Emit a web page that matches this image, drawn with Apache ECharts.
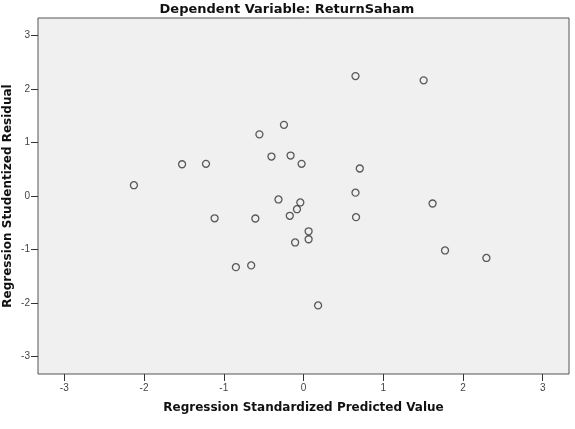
<!DOCTYPE html>
<html>
<head>
<meta charset="utf-8">
<script src="https://cdn.jsdelivr.net/npm/echarts@6/dist/echarts.min.js"></script>
<style>html,body{margin:0;padding:0;background:#fff;}#c{width:575px;height:429px;}</style>
</head>
<body>
<div id="c"></div>
<script>
var titleText = 'Dependent Variable: ReturnSaham';
var xAxisName = 'Regression Standardized Predicted Value';
var yAxisName = 'Regression Studentized Residual';
var tickValues = [-3, -2, -1, 0, 1, 2, 3];
var predictedValues = [0.652, 1.507, -0.245, -0.553, -2.127, -1.523, -1.223, -0.402, -0.162, -0.024,
  0.706, 0.652, -0.314, -0.040, -0.082, -0.172, -1.115, -0.604, 0.659, 1.619,
  0.064, 0.064, -0.105, 1.775, 2.294, -0.848, -0.656, 0.183];
var residualValues = [2.243, 2.164, 1.331, 1.153, 0.202, 0.594, 0.602, 0.738, 0.757, 0.602,
  0.514, 0.062, -0.065, -0.121, -0.247, -0.370, -0.417, -0.421, -0.396, -0.140,
  -0.660, -0.809, -0.869, -1.019, -1.159, -1.331, -1.299, -2.047];

var points = predictedValues.map(function (x, i) { return [x, residualValues[i]]; });

var chart = echarts.init(document.getElementById('c'), null, {renderer: 'canvas'});
var axisCommon = {
  type: 'value',
  min: -3.33,
  max: 3.33,
  nameLocation: 'middle',
  nameMoveOverlap: false,
  nameTextStyle: {fontFamily: 'DejaVu Sans', fontWeight: 'bold', fontSize: 12, color: '#111'},
  axisLine: {show: false, onZero: false},
  splitLine: {show: false},
  axisTick: {show: true, length: 7, lineStyle: {color: '#333', width: 1}, customValues: tickValues},
  axisLabel: {fontFamily: 'Liberation Sans', fontSize: 10, color: '#444', customValues: tickValues}
};
chart.setOption({
  animation: false,
  backgroundColor: '#fff',
  title: {
    text: titleText,
    left: 282,
    textAlign: 'center',
    top: -2,
    textStyle: {fontFamily: 'DejaVu Sans', fontWeight: 'bold', fontSize: 13, color: '#111'}
  },
  grid: {
    left: 38, top: 18, width: 531, height: 356,
    outerBoundsMode: 'none', containLabel: false,
    show: true, backgroundColor: '#f0f0f0', borderColor: '#555', borderWidth: 1
  },
  xAxis: Object.assign({}, axisCommon, {
    name: xAxisName, nameGap: 28,
    axisLabel: Object.assign({}, axisCommon.axisLabel, {margin: 9})
  }),
  yAxis: Object.assign({}, axisCommon, {
    name: yAxisName, nameGap: 24,
    axisLabel: Object.assign({}, axisCommon.axisLabel, {margin: 8})
  }),
  series: [{
    type: 'scatter',
    data: points,
    symbol: 'circle',
    symbolSize: 7,
    itemStyle: {color: 'rgba(0,0,0,0)', borderColor: '#333', borderWidth: 1.3}
  }]
});
</script>
</body>
</html>
